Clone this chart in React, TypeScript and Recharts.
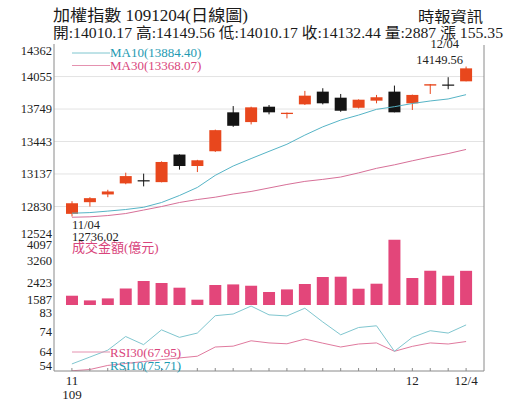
import React from 'react';
import { ComposedChart, Bar, Line, XAxis, YAxis, CartesianGrid, ReferenceDot } from 'recharts';

const dates = ['11/04','11/05','11/06','11/09','11/10','11/11','11/12','11/13','11/16','11/17','11/18','11/19','11/20','11/23','11/24','11/25','11/26','11/27','11/30','12/01','12/02','12/03','12/04'];
const openVals = [12761, 12871, 12944, 13048, 13078, 13060, 13320, 13212, 13351, 13718, 13626, 13771, 13702, 13793, 13913, 13856, 13761, 13828, 13913, 13803, 13970, 13980, 14010.17];
const closeVals = [12861, 12909, 12972, 13117, 13074, 13250, 13212, 13266, 13550, 13591, 13765, 13718, 13714, 13875, 13803, 13733, 13837, 13860, 13718, 13882, 13983, 13977.09, 14132.44];
const highVals = [12880, 12918, 12988, 13149, 13140, 13256, 13322, 13270, 13555, 13777, 13771, 13787, 13716, 13920, 13945, 13891, 13840, 13882, 13970, 13885, 13985, 14049, 14149.56];
const lowVals = [12736.02, 12830, 12918, 13040, 13020, 13058, 13178, 13155, 13345, 13581, 13604, 13699, 13661, 13787, 13793, 13723, 13755, 13803, 13718, 13740, 13891, 13936, 14010.17];
const ma10Vals = [12767, 12773, 12787, 12802, 12823, 12868, 12934, 13010, 13124, 13212, 13282, 13350, 13417, 13503, 13581, 13645, 13692, 13746, 13771, 13801, 13825, 13844, 13884.40];
const ma30Vals = [12729, 12733, 12745, 12764, 12797, 12830, 12868, 12896, 12918, 12948, 12972, 13005, 13038, 13067, 13086, 13108, 13147, 13190, 13223, 13261, 13297, 13329, 13368.07];
const amountVals = [1940, 1762, 1838, 2218, 2500, 2423, 2245, 1789, 2347, 2370, 2320, 2081, 2180, 2385, 2651, 2663, 2206, 2397, 4070, 2613, 2890, 2700, 2887];
const rsi10Vals = [57.5, 60.7, 63.9, 70.3, 66.5, 73.4, 69.9, 71.9, 80.0, 80.8, 84.5, 80.4, 79.9, 83.5, 77.1, 71.1, 74.5, 75.3, 63.4, 69.9, 73.0, 71.9, 75.71];
const rsi30Vals = [54.3, 54.9, 56.8, 57.7, 58.6, 59.5, 60.3, 61.1, 65.4, 65.8, 68.3, 67.3, 66.9, 69.1, 67.2, 65.4, 66.8, 67.3, 63.4, 65.7, 67.3, 66.8, 67.95];

const priceTicks = [12524, 12830, 13137, 13443, 13749, 14055, 14362];
const amountTicks = [1587, 2423, 3260, 4097];
const rsiTicks = [54, 64, 74, 83];
const xTickLabels: Record<string, string[]> = { '11/04': ['11', '109'], '12/01': ['12'], '12/04': ['12/4'] };

const rows = dates.map((d, i) => ({
  date: d,
  open: openVals[i],
  close: closeVals[i],
  high: highVals[i],
  low: lowVals[i],
  ma10: ma10Vals[i],
  ma30: ma30Vals[i],
  amount: amountVals[i],
  rsi10: rsi10Vals[i],
  rsi30: rsi30Vals[i],
}));

const SERIF = '"Liberation Serif", "Noto Sans CJK TC", serif';
const RED = '#E8471D';
const BLACK = '#141414';
const PINK_BAR = '#E3467A';
const AXIS = '#8a8a8a';
const TEAL_TXT = '#1E9AB2';
const PINK_TXT = '#D9457C';

const Candle = (props: any) => {
  const { x, y, width, height, payload } = props;
  if (!payload) return null;
  const { open, close, high, low } = payload;
  const top = Math.min(y, y + height);
  const h = Math.abs(height);
  const ratio = h / (high - low);
  const cx = x + width / 2;
  const up = close > open;
  const color = up ? RED : BLACK;
  const bTop = top + (high - Math.max(open, close)) * ratio;
  let bH = (Math.max(open, close) - Math.min(open, close)) * ratio;
  if (bH < 1.2) bH = 1.2;
  return (
    <g>
      <line x1={cx} x2={cx} y1={top} y2={top + h} stroke={color} strokeWidth={1} />
      <rect x={x} y={bTop} width={width} height={bH} fill={color} />
    </g>
  );
};

const makeYTick = (shifts: Record<number, number>) => (p: any) => {
  const v = p.payload.value;
  const dy = shifts[v] || 0;
  return (
    <text x={52} y={p.y + dy} dy="0.35em" textAnchor="end" fontSize={12.5} fontFamily={SERIF} fill="#222">
      {v}
    </text>
  );
};

const PriceTick = makeYTick({ 14362: 6.5, 12524: -5 });
const AmountTick = makeYTick({ 4097: 6, 1587: -5.5 });
const RsiTick = makeYTick({ 83: 3.5, 74: 3, 64: 2, 54: -6 });

const BottomTick = (p: any) => {
  const v = p.payload.value;
  const labels = xTickLabels[v] || [];
  return (
    <g>
      <line x1={p.x} x2={p.x} y1={p.y} y2={p.y - 3} stroke={AXIS} strokeWidth={1} />
      {labels.map((t, k) => (
        <text key={k} x={p.x} y={p.y + 14 + k * 14} textAnchor="middle" fontSize={13} fontFamily={SERIF} fill="#222">
          {t}
        </text>
      ))}
    </g>
  );
};

const LowLabel = (props: any) => {
  const vb = props.viewBox || {};
  return (
    <g fontFamily={SERIF} fontSize={12.5} fill="#222">
      <text x={vb.x} y={vb.y + 12.5}>11/04</text>
      <text x={vb.x} y={vb.y + 24}>12736.02</text>
    </g>
  );
};

const HighLabel = (props: any) => {
  const vb = props.viewBox || {};
  return (
    <g fontFamily={SERIF} fontSize={12.5} fill="#222">
      <text x={vb.x - 7} y={vb.y - 18.5} textAnchor="end">12/04</text>
      <text x={vb.x - 3} y={vb.y - 3} textAnchor="end">14149.56</text>
    </g>
  );
};

const W = 515;
const MARGIN_R = 31;

export default function App() {
  return (
    <div style={{ position: 'absolute', left: 0, top: 0, width: 515, height: 413, background: '#fff', overflow: 'hidden' }}>
      <div style={{ position: 'absolute', left: 0, top: 0 }}>
        <ComposedChart width={W} height={262} data={rows} margin={{ top: 44, right: MARGIN_R, bottom: 23, left: 0 }}>
          <CartesianGrid vertical={false} horizontalValues={[12830, 13137, 13443, 13749, 14055]} stroke="#e3e3e3" />
          <XAxis dataKey="date" padding={{ left: 9, right: 9 }} tick={false} tickLine={false} height={0} axisLine={{ stroke: AXIS }} />
          <YAxis domain={[12524, 14362]} ticks={priceTicks} interval={0} width={54} tickLine={false} axisLine={{ stroke: AXIS }} tick={PriceTick} allowDataOverflow />
          <Line dataKey="ma30" stroke="#D77098" strokeWidth={1} dot={false} isAnimationActive={false} />
          <Line dataKey="ma10" stroke="#56B4C6" strokeWidth={1} dot={false} isAnimationActive={false} />
          <Bar dataKey={(d: any) => [d.low, d.high]} barSize={12} shape={Candle} isAnimationActive={false} />
          <ReferenceDot x="11/04" y={12736.02} r={0} fill="none" stroke="none" label={LowLabel} />
          <ReferenceDot x="12/04" y={14149.56} r={0} fill="none" stroke="none" label={HighLabel} />
        </ComposedChart>
      </div>
      <div style={{ position: 'absolute', left: 0, top: 239 }}>
        <ComposedChart width={W} height={67} data={rows} margin={{ top: 0, right: MARGIN_R, bottom: 1, left: 0 }}>
          <XAxis dataKey="date" padding={{ left: 9, right: 9 }} tick={false} tickLine={false} height={0} axisLine={{ stroke: AXIS }} />
          <YAxis domain={[1587, 4097]} ticks={amountTicks} interval={0} width={54} tickLine={false} axisLine={{ stroke: AXIS }} tick={AmountTick} allowDataOverflow />
          <Bar dataKey="amount" barSize={12} fill={PINK_BAR} isAnimationActive={false} />
        </ComposedChart>
      </div>
      <div style={{ position: 'absolute', left: 0, top: 305 }}>
        <ComposedChart width={W} height={108} data={rows} margin={{ top: 0, right: MARGIN_R, bottom: 0, left: 0 }}>
          <XAxis dataKey="date" padding={{ left: 17.9, right: 17.9 }} interval={0} tickSize={0} tickMargin={0} tickLine={false} height={42} axisLine={{ stroke: AXIS }} tick={BottomTick} />
          <YAxis domain={[54.2, 85]} ticks={rsiTicks} interval={0} width={54} tickLine={false} axisLine={{ stroke: AXIS }} tick={RsiTick} allowDataOverflow />
          <Line dataKey="rsi30" stroke="#E07A9E" strokeWidth={1} dot={false} isAnimationActive={false} />
          <Line dataKey="rsi10" stroke="#7FC6CF" strokeWidth={1} dot={false} isAnimationActive={false} />
        </ComposedChart>
      </div>
      <svg width={515} height={413} style={{ position: 'absolute', left: 0, top: 0, pointerEvents: 'none' }}>
        <g fontFamily={SERIF} fill="#1a1a1a">
          <text x={53} y={20.7} fontSize={16} textLength={195} lengthAdjust="spacingAndGlyphs">加權指數 1091204(日線圖)</text>
          <text x={418} y={22} fontSize={14.5} textLength={65} lengthAdjust="spacingAndGlyphs">時報資訊</text>
          <text x={53} y={38.3} fontSize={15} textLength={450} lengthAdjust="spacingAndGlyphs">開:14010.17 高:14149.56 低:14010.17 收:14132.44 量:2887 漲 155.35</text>
        </g>
        <line x1={484} x2={484} y1={45} y2={371} stroke={AXIS} strokeWidth={1} />
        <line x1={72} x2={110} y1={53} y2={53} stroke="#7FC6CF" strokeWidth={1} />
        <line x1={72} x2={110} y1={65.5} y2={65.5} stroke="#E592B0" strokeWidth={1} />
        <text x={110} y={57.3} fontSize={13} fontFamily={SERIF} fill={TEAL_TXT}>MA10(13884.40)</text>
        <text x={110} y={70} fontSize={13} fontFamily={SERIF} fill={PINK_TXT}>MA30(13368.07)</text>
        <text x={72} y={252} fontSize={13} fontFamily={SERIF} fill={PINK_TXT}>成交金額(億元)</text>
        <line x1={72} x2={110} y1={352} y2={352} stroke="#E592B0" strokeWidth={1} />
        <text x={110} y={357} fontSize={13} fontFamily={SERIF} fill={PINK_TXT}>RSI30(67.95)</text>
        <text x={110} y={369.5} fontSize={13} fontFamily={SERIF} fill={TEAL_TXT}>RSI10(75.71)</text>
      </svg>
    </div>
  );
}
